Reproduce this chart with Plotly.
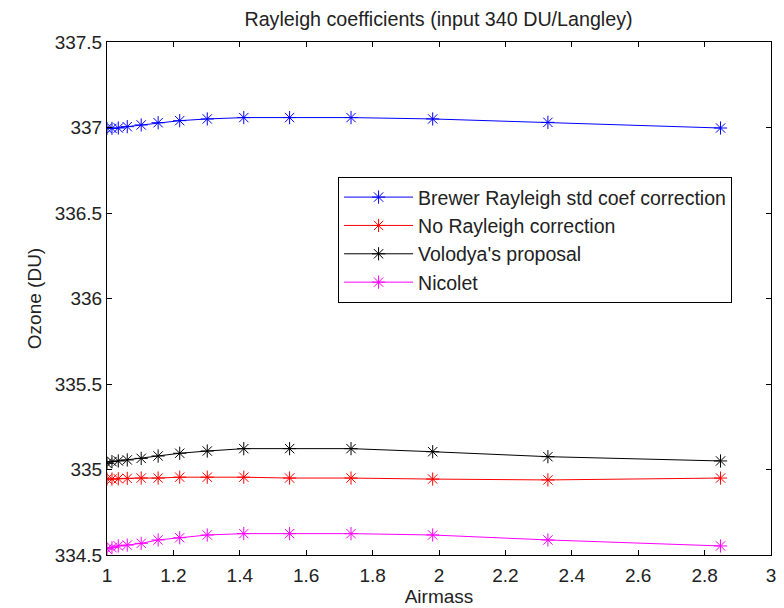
import plotly.graph_objects as go

airmass = [1.000, 1.015, 1.034, 1.061, 1.103, 1.154, 1.219, 1.302, 1.412, 1.550, 1.735, 1.981, 2.328, 2.848]

brewer = [336.995, 336.995, 336.997, 337.005, 337.015, 337.028, 337.040, 337.050, 337.058, 337.058, 337.058, 337.050, 337.030, 336.997]
no_rayleigh = [334.944, 334.944, 334.946, 334.948, 334.950, 334.950, 334.955, 334.955, 334.955, 334.950, 334.950, 334.944, 334.939, 334.950]
volodya = [335.036, 335.046, 335.050, 335.056, 335.065, 335.079, 335.095, 335.108, 335.122, 335.122, 335.122, 335.104, 335.075, 335.050]
nicolet = [334.535, 334.543, 334.553, 334.558, 334.568, 334.588, 334.601, 334.617, 334.625, 334.625, 334.625, 334.617, 334.588, 334.553]

names = ["Brewer Rayleigh std coef correction", "No Rayleigh correction", "Volodya's proposal", "Nicolet"]
colors = ["#0000ff", "#ff0000", "#000000", "#ff00ff"]
series = [brewer, no_rayleigh, volodya, nicolet]

x_ticks = [1, 1.2, 1.4, 1.6, 1.8, 2, 2.2, 2.4, 2.6, 2.8, 3]
y_ticks = [334.5, 335, 335.5, 336, 336.5, 337, 337.5]

FONT = "Liberation Sans, Arial, sans-serif"
FS = 19
TXT = "#222222"

fig = go.Figure()
for name, col, ys in zip(names, colors, series):
    fig.add_trace(go.Scatter(
        x=airmass, y=ys, name=name, mode="lines+markers",
        line=dict(color=col, width=1),
        marker=dict(symbol="asterisk-open", size=11, color=col, line=dict(color=col, width=1)),
    ))

axis_common = dict(
    showgrid=False, zeroline=False, showline=True, linecolor="black", linewidth=1,
    mirror="ticks", ticks="inside", ticklen=5, tickcolor="black", automargin=False,
    tickfont=dict(family=FONT, size=FS, color=TXT),
)

fig.update_layout(
    width=776, height=600,
    margin=dict(l=99, r=13, t=34, b=53),
    paper_bgcolor="white", plot_bgcolor="white",
    title=dict(text="Rayleigh coefficients (input 340 DU/Langley)", x=0.5548, xanchor="center",
               y=0.982, yanchor="middle", font=dict(family=FONT, size=19.7, color=TXT)),
    xaxis=dict(range=[1, 3], tickvals=x_ticks, ticktext=[f"{v:g}" for v in x_ticks],
               ticklabelstandoff=3,
               title=dict(text="Airmass", font=dict(family=FONT, size=FS, color=TXT), standoff=2),
               **axis_common),
    yaxis=dict(range=[334.5, 337.5], tickvals=y_ticks, ticktext=[f"{v:g}" for v in y_ticks],
               title=dict(text="Ozone (DU)", font=dict(family=FONT, size=FS, color=TXT), standoff=8),
               **axis_common),
    legend=dict(x=0.348, y=0.737, xanchor="left", yanchor="top",
                bgcolor="white", bordercolor="black", borderwidth=1,
                font=dict(family=FONT, size=19.5, color=TXT),
                itemwidth=69),
    showlegend=True,
)

fig.write_html("out.html")
